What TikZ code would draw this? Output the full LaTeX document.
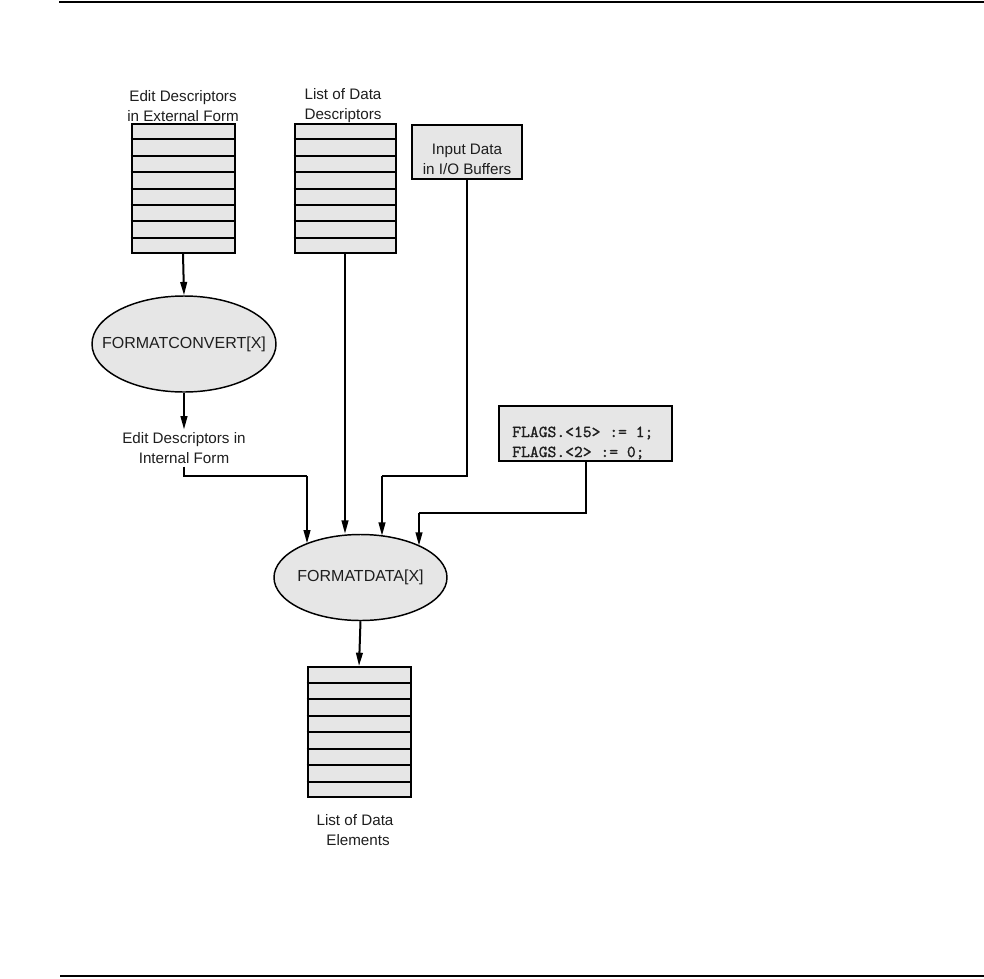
\documentclass[tikz,border=0pt]{standalone}
\usepackage{fontspec}
\setmainfont{Liberation Sans}
\newfontfamily\flagsfont{lmmono10-regular.otf}[FakeBold=1.2]
\usetikzlibrary{arrows.meta,shapes.geometric,calc}
\definecolor{boxgray}{RGB}{230,230,230}
\definecolor{txt}{RGB}{30,30,30}
\begin{document}
\begin{tikzpicture}[x=0.75pt,y=-0.75pt,
  every node/.style={font=\fontsize{11.4pt}{15pt}\selectfont, text=txt},
  stackbox/.style={draw, line width=1.5pt, fill=boxgray, minimum width=103*0.75pt, minimum height=129*0.75pt, inner sep=0pt},
  plainbox/.style={draw, line width=1.5pt, fill=boxgray, inner sep=0pt},
  procell/.style={ellipse, draw, line width=1.1pt, fill=boxgray, inner sep=0pt, font=\fontsize{12pt}{15pt}\selectfont},
  lbl/.style={align=center, inner sep=2pt},
  conn/.style={line width=1.5pt},
  arr/.style={conn, -{Triangle[length=10pt,width=5pt]}},
  rulel/.style={line width=1.6pt}]
\useasboundingbox (0,0) rectangle (984,978);

% page rules
\coordinate (rt1) at (59,2);
\coordinate (rt2) at (984,2);
\coordinate (rb1) at (60,976);
\coordinate (rb2) at (984,976);
\draw[rulel] (rt1) -- (rt2);
\draw[rulel] (rb1) -- (rb2);

% stacks
\node[stackbox] (s1) at (183,188.5) {};
\node[stackbox, minimum width=101*0.75pt] (s2) at (345,188.5) {};
\node[stackbox, minimum height=130*0.75pt] (s3) at (359,732) {};
\foreach \s in {s1,s2,s3}
  \foreach \i in {1,...,7}
    \draw[conn] ($(\s.north west)!\i/8!(\s.south west)$) -- ($(\s.north east)!\i/8!(\s.south east)$);

% labels of stacks
\node[lbl] (l1) at (183,106) {Edit Descriptors\\in External Form};
\node[lbl] (l2) at (343,106) {List of Data\\Descriptors};
\node[lbl] (l3) at (355,830) {List of Data\\\hspace*{0.4em}Elements};

% input box
\node[plainbox, minimum width=110*0.75pt, minimum height=54*0.75pt] (in) at (467,152) {};
\node[lbl] (inl) at (467,159) {Input Data\\in I/O Buffers};

% flags box
\node[plainbox, minimum width=173*0.75pt, minimum height=55*0.75pt] (fl) at (585.5,433.5) {};
\node[anchor=west, align=left, inner sep=0pt, font=\flagsfont\fontsize{12.6pt}{15pt}\selectfont] (fll) at (512,443) {FLAGS.<15> := 1;\\FLAGS.<2> := 0;};

% ellipses
\node[procell, minimum width=184*0.75pt, minimum height=96*0.75pt] (e1) at (184,344) {\makebox[0pt]{\raisebox{-2pt}{FORMATCONVERT[X]}}};
\node[procell, minimum width=173*0.75pt, minimum height=86*0.75pt] (e2) at (360.5,577.5) {\makebox[0pt]{\raisebox{-4pt}{FORMATDATA[X]}}};

% intermediate label
\node[lbl] (t1) at (184,448) {Edit Descriptors in\\Internal Form};

% junction coordinates
\coordinate (j1) at (307,476);
\coordinate (j2) at (382,476);
\coordinate (j3) at (419,513);

% connectors
\draw[arr] (s1.south) -- (e1.north);
\draw[arr] (e1.south) -- (t1.north);
\draw[conn] (t1.south) |- (j1);
\draw[arr] (j1) -- (j1 |- e2.148);
\draw[arr] (s2.south) -- (s2.south |- e2.north);
\draw[conn] (in.south) |- (j2);
\draw[arr] (j2) -- ($(j2 |- e2.north)+(0,2)$);
\draw[conn] (fl.south) |- (j3);
\draw[arr] (j3) -- (j3 |- e2.28);
\draw[arr] (e2.south) -- (s3.north);
\end{tikzpicture}
\end{document}
